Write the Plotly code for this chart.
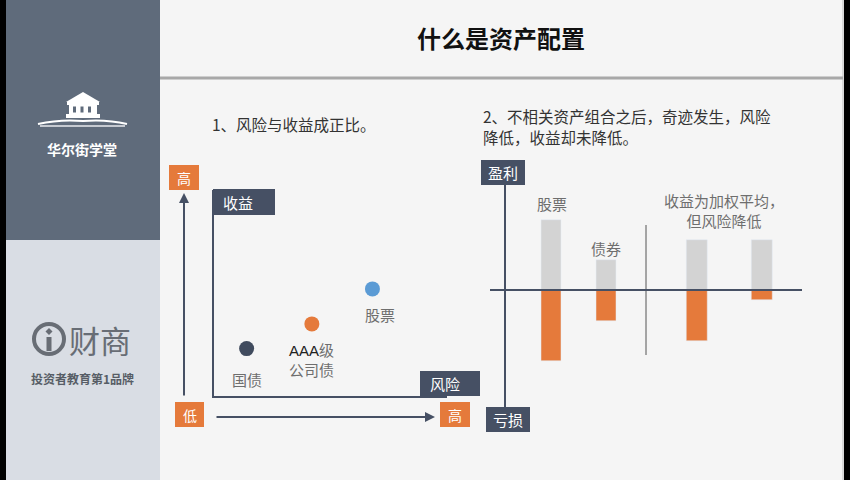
import plotly.graph_objects as go

W, H = 850, 480
def X(px): return px / W
def Y(py): return 1 - py / H

# ---------------- data ----------------
scatter_assets = ["国债", "AAA级公司债", "股票"]
scatter_labels = ["国债",
                  "<span style='font-family:Liberation Sans;color:#222'>AAA</span>级<br>公司债",
                  "股票"]
risk = [1.4, 4.2, 6.8]
ret = [2.3, 3.5, 5.2]

single_assets = ["股票", "债券"]
single_gain = [7.0, 3.0]
single_loss = [-7.1, -3.1]
combo_assets = ["组合一", "组合二"]
combo_gain = [5.0, 5.0]
combo_loss = [-5.1, -1.0]

title_text = "什么是资产配置"
sub1 = "1、风险与收益成正比。"
sub2_lines = ["2、不相关资产组合之后，奇迹发生，风险", "降低，收益却未降低。"]
combo_note = "收益为加权平均，<br>但风险降低"

# ---------------- styles ----------------
FONT = "Noto Sans CJK SC"
ORANGE = "#e57a3b"
SLATE = "#465064"
LGRAY = "#d3d3d3"
BG = "#f5f5f5"
point_colors = ["#404b5e", ORANGE, "#5b9bd5"]
label_shift = [(0, -31), (0, -36), (8, -26)]

fig = go.Figure()

fig.add_trace(go.Scatter(x=risk, y=ret, mode="markers", xaxis="x", yaxis="y",
                         marker=dict(size=15, color=point_colors), hoverinfo="skip",
                         text=scatter_assets))

fig.add_trace(go.Bar(x=single_assets, y=single_gain, xaxis="x2", yaxis="y2",
                     marker_color=LGRAY, width=0.36, hoverinfo="skip"))
fig.add_trace(go.Bar(x=single_assets, y=single_loss, xaxis="x2", yaxis="y2",
                     marker_color=ORANGE, width=0.36, hoverinfo="skip"))
fig.add_trace(go.Bar(x=combo_assets, y=combo_gain, xaxis="x3", yaxis="y3",
                     marker_color=LGRAY, width=0.31, hoverinfo="skip"))
fig.add_trace(go.Bar(x=combo_assets, y=combo_loss, xaxis="x3", yaxis="y3",
                     marker_color=ORANGE, width=0.31, hoverinfo="skip"))

shapes = []
ann = []

def rect(x0, y0, x1, y1, color, layer="below"):
    shapes.append(dict(type="rect", xref="paper", yref="paper", x0=X(x0), x1=X(x1),
                       y0=Y(y1), y1=Y(y0), fillcolor=color, line_width=0, layer=layer))

def line(x0, y0, x1, y1, color, width, layer="below"):
    shapes.append(dict(type="line", xref="paper", yref="paper", x0=X(x0), x1=X(x1),
                       y0=Y(y0), y1=Y(y1), line=dict(color=color, width=width), layer=layer))

def text(x, y, t, size, color, xanchor="center", yanchor="middle", align="center"):
    ann.append(dict(xref="paper", yref="paper", x=X(x), y=Y(y), text=t, showarrow=False,
                    xanchor=xanchor, yanchor=yanchor, align=align,
                    font=dict(family=FONT, size=size, color=color)))

def box(x0, y0, x1, y1, t, color, size=15, left=None):
    rect(x0, y0, x1, y1, color, layer="above")
    if left is None:
        text((x0 + x1) / 2, (y0 + y1) / 2, t, size, "white")
    else:
        text(x0 + left, (y0 + y1) / 2, t, size, "white", xanchor="left")

# sidebar
rect(0, 0, 160, 240, "#5f6b7b")
rect(0, 240, 160, 480, "#d9dde4")
rect(0, 0, 6, 480, "#000000")
rect(844, 0, 850, 480, "#000000")
line(843, 0, 843, 480, "#bdbdbd", 1)
# header line
line(160, 78, 843, 78, "#a8a8a8", 3)

# building icon
def path(points):
    return "M " + " L ".join(f"{X(a)} {Y(b)}" for a, b in points) + " Z"
shapes.append(dict(type="path", xref="paper", yref="paper",
                   path=path([(66, 102), (83, 92), (100, 102)]), fillcolor="white", line_width=0))
rect(67, 102, 99, 105, "white")
rect(69, 105, 97, 114, "white")
for cx in (74.5, 82, 89.5):
    rect(cx - 1.5, 106.5, cx + 1.5, 112.5, "#5f6b7b")
rect(66, 114, 100, 118, "white")
shapes.append(dict(type="path", xref="paper", yref="paper",
                   path=f"M {X(38)} {Y(124)} Q {X(60)} {Y(119)} {X(83)} {Y(121)} Q {X(106)} {Y(119)} {X(127)} {Y(124)}",
                   line=dict(color="white", width=2)))
line(40, 126, 125, 126, "#e8eaee", 1.5)
text(82, 149, "<b>华尔街学堂</b>", 14, "white")

# bottom logo
shapes.append(dict(type="circle", xref="paper", yref="paper", x0=X(34), x1=X(64),
                   y0=Y(354), y1=Y(324), line=dict(color="#686d75", width=4)))
shapes.append(dict(type="path", xref="paper", yref="paper",
                   path=path([(49, 328), (52.5, 331.5), (49, 335), (45.5, 331.5)]),
                   fillcolor="#686d75", line_width=0))
rect(46.5, 337, 51.5, 351, "#686d75")
text(100, 339, "财商", 31, "#686d75")
text(82, 378, "<b>投资者教育第1品牌</b>", 12, "#575d66")

# titles
text(501, 38, f"<b>{title_text}</b>", 24, "#111111")
text(210, 124, sub1, 15.5, "#333333", xanchor="left")
text(481, 116, sub2_lines[0], 15.5, "#333333", xanchor="left")
text(481, 137, sub2_lines[1], 15.5, "#333333", xanchor="left")

# left panel
ann.append(dict(xref="paper", yref="paper", x=X(184), y=Y(193), ax=0, ay=204, text="",
                showarrow=True, arrowhead=2, arrowsize=1, arrowwidth=2, arrowcolor=SLATE))
ann.append(dict(xref="paper", yref="paper", x=X(435), y=Y(417), ax=-220, ay=0, text="",
                showarrow=True, arrowhead=2, arrowsize=1, arrowwidth=2, arrowcolor=SLATE))
box(169, 165, 199, 190, "高", ORANGE, 14)
box(175, 402, 204, 427, "低", ORANGE, 14)
box(440, 402, 470, 427, "高", ORANGE, 14)
box(213, 189, 275, 215, "收益", SLATE, 15, left=8)
box(420, 371, 480, 396, "风险", SLATE, 15, left=8)

for i, lab in enumerate(scatter_labels):
    dx, dy = label_shift[i]
    ann.append(dict(xref="x", yref="y", x=risk[i], y=ret[i], text=lab, showarrow=False,
                    xshift=dx, yshift=dy, align="center",
                    font=dict(family=FONT, size=15, color="#6e6e6e")))

# right panel
line(505, 185, 505, 407, SLATE, 2)
shapes.append(dict(type="line", xref="paper", yref="y2", x0=X(490), x1=X(802), y0=0, y1=0,
                   line=dict(color=SLATE, width=2), layer="above"))
line(646, 225, 646, 355, "#555555", 1)
box(481, 160, 525, 185, "盈利", SLATE, 15)
box(486, 407, 530, 432, "亏损", SLATE, 15)
for i, lab in enumerate(single_assets):
    ann.append(dict(xref="x2", yref="y2", x=lab, y=single_gain[i], text=lab, showarrow=False,
                    yshift=[17, 12][i], font=dict(family=FONT, size=15, color="#6e6e6e")))
text(724, 210, combo_note, 15, "#6e6e6e")

hidden = dict(visible=False, fixedrange=True)
fig.update_layout(
    width=W, height=H, margin=dict(l=0, r=0, t=0, b=0),
    paper_bgcolor=BG, plot_bgcolor="rgba(0,0,0,0)",
    showlegend=False, barmode="relative", bargap=0,
    font=dict(family=FONT),
    xaxis=dict(domain=[X(214), X(447)], range=[0, 10], anchor="y", showline=True,
               linecolor=SLATE, linewidth=2, showgrid=False, zeroline=False,
               showticklabels=False, ticks="", fixedrange=True),
    yaxis=dict(domain=[Y(396), Y(190)], range=[0, 10], anchor="x", showline=True,
               linecolor=SLATE, linewidth=2, showgrid=False, zeroline=False,
               showticklabels=False, ticks="", fixedrange=True),
    xaxis2=dict(domain=[X(524.25), X(633.25)], range=[-0.5, 1.5], anchor="y2",
                type="category", **hidden),
    yaxis2=dict(domain=[Y(410), Y(180)], range=[-12, 11], anchor="x2", **hidden),
    xaxis3=dict(domain=[X(664.5), X(794.5)], range=[-0.5, 1.5], anchor="y3",
                type="category", **hidden),
    yaxis3=dict(domain=[Y(410), Y(180)], range=[-12, 11], anchor="x3", **hidden),
    shapes=shapes, annotations=ann,
)

fig.write_html("out.html", config={"displayModeBar": False})
